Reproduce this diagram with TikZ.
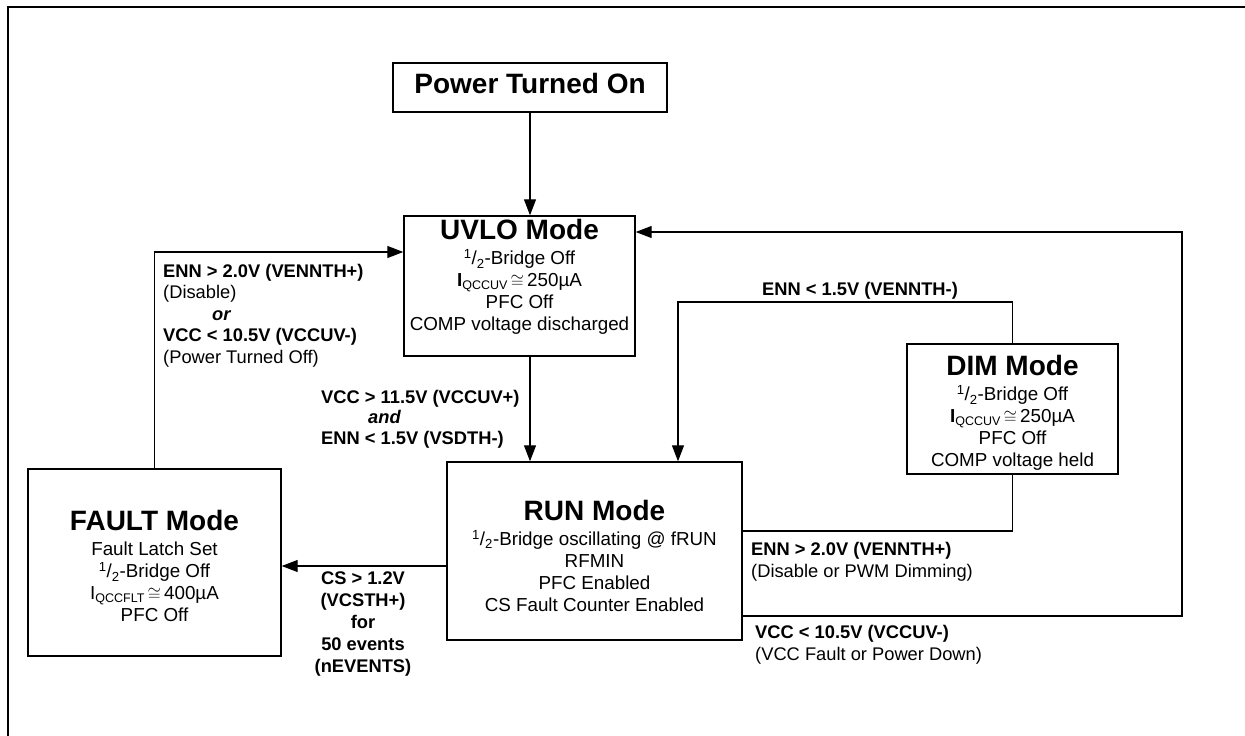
\documentclass[tikz,border=0pt]{standalone}
\usepackage{fontspec}
\setmainfont{Liberation Sans}
\usetikzlibrary{arrows.meta}
\newcommand{\halfb}{\textsuperscript{1}/\textsubscript{2}}
\newcommand{\modetitle}[1]{{\fontsize{28}{28}\selectfont\bfseries #1}}
\newcommand{\qsub}[1]{\raisebox{-0.12em}{\fontsize{12.5}{12.5}\selectfont #1}}

\begin{document}
\begin{tikzpicture}[x=1pt,y=-1pt,
    box/.style={draw, line width=1.4pt, inner sep=0pt},
    modetext/.style={anchor=north, align=center, inner sep=0pt, font=\fontsize{18.8}{22}\selectfont},
    cond/.style={inner sep=0pt, font=\fontsize{18.3}{22}\selectfont\bfseries},
    flow/.style={line width=1.2pt},
    arr/.style={flow, -{Triangle[length=16pt,width=12pt]}}]
    \useasboundingbox (0,0) rectangle (1245,736);
    \draw[line width=1.5pt] (8,736) -- (8,7) -- (1245,7);

    \node[box, minimum width=274pt, minimum height=49pt, text height=20pt, text depth=8pt] (pwr) at (530,87.5) {\modetitle{Power Turned On}};

    \node[box, minimum width=231pt, minimum height=140pt] (uvlo) at (519.5,286) {};
    \node[modetext] (uvlo-txt) at (519.5,219) {\modetitle{UVLO Mode}\\[3.5pt]
        \halfb-Bridge Off\\
        \textbf{I}\qsub{QCCUV}\,$\cong$\,250µA\\
        PFC Off\\
        COMP voltage discharged};

    \node[box, minimum width=295pt, minimum height=178pt] (run) at (594.5,551) {};
    \node[modetext] (run-txt) at (594.5,500) {\modetitle{RUN Mode}\\[3pt]
        \halfb-Bridge oscillating @ fRUN\\
        RFMIN\\
        PFC Enabled\\
        CS Fault Counter Enabled};

    \node[box, minimum width=253pt, minimum height=187pt] (fault) at (154.5,562.5) {};
    \node[modetext] (fault-txt) at (154.5,510.5) {\modetitle{FAULT Mode}\\[3pt]
        Fault Latch Set\\
        \halfb-Bridge Off\\
        I\qsub{QCCFLT}\,$\cong$\,400µA\\
        PFC Off};

    \node[box, minimum width=211pt, minimum height=130pt] (dim) at (1012.5,409) {};
    \node[modetext] (dim-txt) at (1012.5,355.5) {\modetitle{DIM Mode}\\[3pt]
        \halfb-Bridge Off\\
        \textbf{I}\qsub{QCCUV}\,$\cong$\,250µA\\
        PFC Off\\
        COMP voltage held};

    % transition conditions
    \node[cond, anchor=north west, align=left, font=\fontsize{18.3}{21.5}\selectfont\bfseries] (offcond) at (163,264)
        {ENN > 2.0V (VENNTH+)\\ \textmd{(Disable)}\\ \hspace*{49pt}\textit{or}\\ VCC < 10.5V (VCCUV-)\\ \textmd{(Power Turned Off)}};
    \node[cond, anchor=north west, align=left, font=\fontsize{18.3}{20.5}\selectfont\bfseries] (oncond) at (321,390)
        {VCC > 11.5V (VCCUV+)\\ \hspace*{47pt}\textit{and}\\ ENN < 1.5V (VSDTH-)};
    \node[cond, anchor=base] (dimexit) at (860,295) {ENN < 1.5V (VENNTH-)};
    \node[cond, anchor=north west, align=left] (dimentry) at (751,542)
        {ENN > 2.0V (VENNTH+)\\ \textmd{(Disable or PWM Dimming)}};
    \node[cond, anchor=north west, align=left] (uvcond) at (755,625)
        {VCC < 10.5V (VCCUV-)\\ \textmd{(VCC Fault or Power Down)}};
    \node[cond, anchor=north, align=center] (cscond) at (363,572)
        {CS > 1.2V\\ (VCSTH+)\\ for\\ 50 events\\ (nEVENTS)};

    \coordinate (spine) at (530,0);
    \coordinate (offin) at ([yshift=34pt]uvlo.west);
    \coordinate (cs) at ([yshift=-15pt]run.west);
    \coordinate (enn) at (678,302);
    \coordinate (vcc) at ([yshift=-65pt]run.east);
    \coordinate (rt) at (1182,232);

    \path
    (pwr.south) [arr] edge (pwr.south |- uvlo.north)
    (spine |- uvlo.south) [arr] edge (spine |- run.north)
    (cs) [arr] edge (cs -| fault.east);
    \draw[arr] (fault.north) |- (offin);
    \draw[arr] (dim.north) |- (enn) -- (enn |- run.north);
    \draw[flow] (dim.south) |- ([yshift=20pt]run.east);
    \draw[arr] (vcc) -| (rt) -- (rt -| uvlo.east);
\end{tikzpicture}
\end{document}
